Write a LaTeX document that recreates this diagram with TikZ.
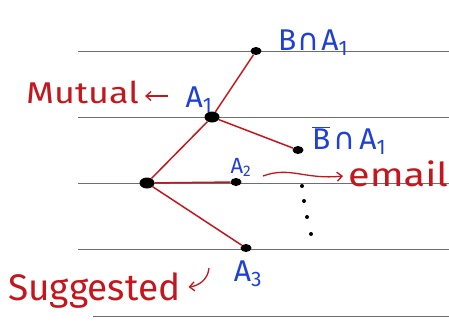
\documentclass[tikz,border=0pt]{standalone}
\usepackage{fontspec}
\setmainfont{Fira Sans}
\newfontfamily\symf{DejaVu Sans}
\usetikzlibrary{arrows.meta,shapes.geometric}
\definecolor{pen}{HTML}{C4161C}
\definecolor{ink}{HTML}{1E3FD8}
\definecolor{rulec}{HTML}{6E6E6E}
\begin{document}
\begin{tikzpicture}[x=1pt,y=-1pt,
 rule/.style={draw=rulec, line width=0.9pt},
 branch/.style={draw=pen, line width=1.5pt},
 dot/.style={fill=black, ellipse, inner sep=0pt, minimum width=11pt, minimum height=8pt},
 bigdot/.style={dot, minimum width=15pt, minimum height=11pt},
 lbl/.style={text=ink, inner sep=0pt, font=\fontsize{30}{30}\selectfont},
 small/.style={text=ink, inner sep=0pt, font=\fontsize{22}{22}\selectfont},
 word/.style={text=pen, inner sep=0pt},
 note/.style={draw=pen, line width=1.3pt, -{Straight Barb[length=5pt,width=9pt]}},
 vdot/.style={fill=black, circle, inner sep=0pt, minimum size=4pt}]
\useasboundingbox (0,0) rectangle (449,325);
% ruled lines
\foreach \y/\n in {51/1,117/2,183/3,249/4}{
  \coordinate (l\n w) at (78,\y); \coordinate (l\n e) at (449,\y);
  \draw[rule] (l\n w) -- (l\n e);}
\coordinate (l5w) at (93,316); \coordinate (l5e) at (449,316);
\draw[rule] (l5w) -- (l5e);
% dots
\node[bigdot] (r) at (147,183) {};
\node[bigdot] (a1) at (212,117) {};
\node[dot] (b1) at (256,51) {};
\node[dot] (b2) at (298,150) {};
\node[dot] (a2) at (236,182) {};
\node[dot] (a3) at (246,248) {};
% branches
\draw[branch] (r) -- (a1);
\draw[branch] (a1) -- (b1);
\draw[branch] (a1) -- (b2);
\draw[branch] (r) -- (a2);
\draw[branch] (r) -- (a3);
% blue labels
\node[lbl, anchor=base west] (lb1) at (278,50) {B\hspace{1pt}{\symf ∩}\hspace{2pt}A\textsubscript{1}};
\node[lbl, anchor=base west] (lb2) at (312,149) {$\overline{\mbox{B}}$\hspace{3pt}{\symf ∩}\hspace{4pt}A\textsubscript{1}};
\node[lbl, anchor=base] (la1) at (199,107) {A\textsubscript{1}};
\node[small, anchor=base] (la2) at (241,173) {A\textsubscript{2}};
\node[lbl, anchor=base] (la3) at (248,281) {A\textsubscript{3}};
% red words
\node[word, anchor=base west, font=\fontsize{30}{30}\selectfont] (mut) at (26,103) {\scalebox{1.2}[1]{Mutual}};
\node[word, anchor=base west, font=\fontsize{33}{33}\selectfont] (em) at (348,186) {\scalebox{1.2}[1]{email}};
\node[word, anchor=base west, font=\fontsize{37}{37}\selectfont] (sug) at (8,300) {Suggested};
% red arrows
\coordinate (m0) at (168,96);
\draw[note] (m0) -- ([xshift=6pt]mut.east |- m0);
\coordinate (e0) at (263,176);
\draw[note] (e0) .. controls (290,166) and (305,180) .. ([xshift=-5pt]em.west |- 0,176);
\coordinate (s0) at (209,268);
\draw[note] (s0) .. controls (208,280) and (198,286) .. ([xshift=8pt]sug.east |- 0,287);
% vertical dots
\node[vdot] (v1) at (302,186) {};
\node[vdot] (v2) at (304,201) {};
\node[vdot] (v3) at (307,217) {};
\node[vdot] (v4) at (311,234) {};
\end{tikzpicture}
\end{document}
